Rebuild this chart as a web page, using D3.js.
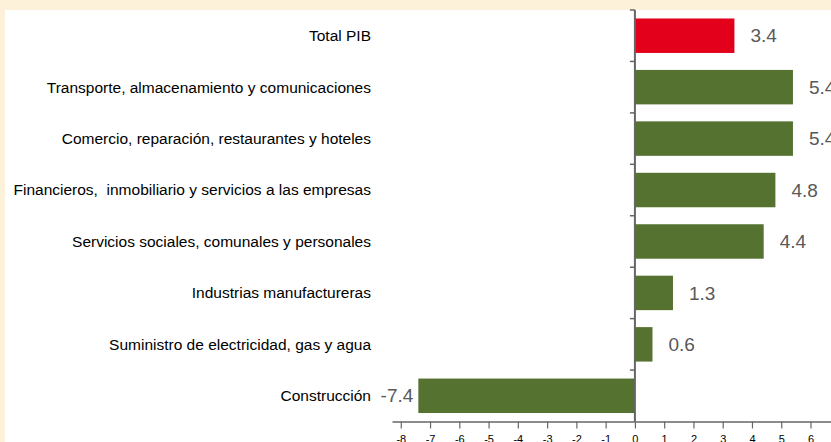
<!DOCTYPE html>
<html>
<head>
<meta charset="utf-8">
<script src="https://cdn.jsdelivr.net/npm/d3@7"></script>
<style>
  body { margin: 0; background: #fdf2d9; }
  svg { display: block; }
</style>
</head>
<body>
<div id="chart"></div>
<script>
// datos
const categorias = [
  "Total PIB",
  "Transporte, almacenamiento y comunicaciones",
  "Comercio, reparación, restaurantes y hoteles",
  "Financieros,  inmobiliario y servicios a las empresas",
  "Servicios sociales, comunales y personales",
  "Industrias manufactureras",
  "Suministro de electricidad, gas y agua",
  "Construcción"
]
const valores = [3.4, 5.4, 5.4, 4.8, 4.4, 1.3, 0.6, -7.4]
const ticksX = [-8, -7, -6, -5, -4, -3, -2, -1, 0, 1, 2, 3, 4, 5, 6]

const width = 831
const height = 442
const fuente = "'Liberation Sans', Arial, sans-serif"

const svg = d3.select("div#chart").append("svg").attr("width", width).attr("height", height)

// panel blanco
svg.append("rect").attr("x", 5).attr("y", 10).attr("width", width - 5).attr("height", height - 10).attr("fill", "#ffffff")

const x = d3.scaleLinear().domain([-8.3, 6.7]).range([392, 831])
const y = d3.scaleBand().domain(categorias).range([10, 421.5]).paddingInner(0.33).paddingOuter(0.165)
const yTicks = d3.scaleBand().domain(categorias).range([10, 421.5])

// barras
svg.selectAll("rect.bar")
  .data(valores)
  .enter()
  .append("rect")
  .attr("class", "bar")
  .attr("x", d => x(Math.min(0, d)))
  .attr("y", (d, i) => y(categorias[i]))
  .attr("width", d => Math.abs(x(d) - x(0)))
  .attr("height", y.bandwidth())
  .attr("fill", (d, i) => i === 0 ? "#e2001a" : "#557230")

// etiquetas de valor
svg.selectAll("text.valor")
  .data(valores)
  .enter()
  .append("text")
  .attr("class", "valor")
  .attr("x", d => d < 0 ? x(d) - 5 : x(d) + 16)
  .attr("y", (d, i) => y(categorias[i]) + y.bandwidth() / 2)
  .attr("dy", "0.35em")
  .attr("text-anchor", d => d < 0 ? "end" : "start")
  .style("font-family", fuente)
  .style("font-size", "19px")
  .style("fill", "#595959")
  .text(d => d.toFixed(1))

// etiquetas de categoria
svg.selectAll("text.cat")
  .data(categorias)
  .enter()
  .append("text")
  .attr("class", "cat")
  .attr("x", 371)
  .attr("y", d => y(d) + y.bandwidth() / 2)
  .attr("dy", "0.35em")
  .attr("text-anchor", "end")
  .style("font-family", fuente)
  .style("font-size", "15.5px")
  .style("white-space", "pre")
  .style("fill", "#000")
  .text(d => d)

// eje x
const xAxis = d3.axisBottom(x).tickValues(ticksX).tickFormat(d => String(d))
  .tickSize(7).tickSizeOuter(0).tickPadding(7)
const xAxisGroup = svg.append("g").attr("transform", "translate(0,421.5)").call(xAxis)
xAxisGroup.select(".domain").attr("stroke", "#666").attr("stroke-width", 1.5)
xAxisGroup.selectAll(".tick line").attr("stroke", "#666").attr("stroke-width", 1.2)
xAxisGroup.selectAll(".tick text")
  .style("font-family", fuente).style("font-size", "11px").style("fill", "#000")

// eje y (linea en cero con marcas entre categorias)
const yLine = svg.append("g").attr("class", "yAxis")
yLine.append("line")
  .attr("x1", x(0)).attr("x2", x(0)).attr("y1", 10).attr("y2", 421.5)
  .attr("stroke", "#666").attr("stroke-width", 2)
yLine.selectAll("line.tk")
  .data(categorias)
  .enter()
  .append("line")
  .attr("class", "tk")
  .attr("x1", x(0) - 5).attr("x2", x(0))
  .attr("y1", d => yTicks(d)).attr("y2", d => yTicks(d))
  .attr("stroke", "#666").attr("stroke-width", 1.5)
</script>
</body>
</html>
